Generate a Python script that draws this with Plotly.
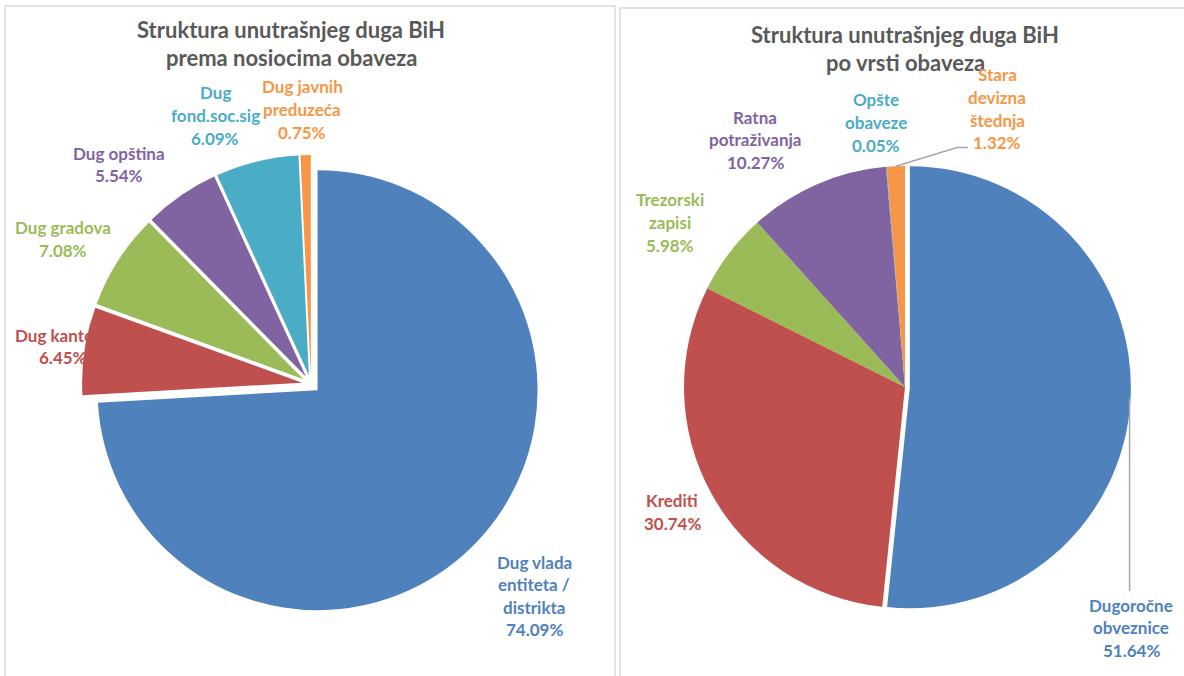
import math
import plotly.graph_objects as go

W, H = 1184, 676

# ---------------- data ----------------
left_title = ["Struktura unutrašnjeg duga BiH", "prema nosiocima obaveza"]
left_labels = ["Dug vlada entiteta / distrikta", "Dug kantona", "Dug gradova",
               "Dug opština", "Dug fond.soc.sig", "Dug javnih preduzeća"]
left_label_lines = [["Dug vlada", "entiteta /", "distrikta"], ["Dug kantona"], ["Dug gradova"],
                    ["Dug opština"], ["Dug", "fond.soc.sig"], ["Dug javnih", "preduzeća"]]
left_values = [74.09, 6.45, 7.08, 5.54, 6.09, 0.75]

right_title = ["Struktura unutrašnjeg duga BiH", "po vrsti obaveza"]
right_labels = ["Dugoročne obveznice", "Krediti", "Trezorski zapisi",
                "Ratna potraživanja", "Opšte obaveze", "Stara devizna štednja"]
right_label_lines = [["Dugoročne", "obveznice"], ["Krediti"], ["Trezorski", "zapisi"],
                     ["Ratna", "potraživanja"], ["Opšte", "obaveze"], ["Stara", "devizna", "štednja"]]
right_values = [51.64, 30.74, 5.98, 10.27, 0.05, 1.32]

colors = ["#4F81BD", "#C0504D", "#9BBB59", "#8064A2", "#4BACC6", "#F79646"]

# ---------------- layout config (pixels) ----------------
FONT = "Lato"
TITLE_COLOR = "#595959"
LINE_STEP = 22.5
LABEL_SIZE = 17
TITLE_SIZE = 22

left_geo = dict(cx=311, cy=384, r=220, pull=[0.041] * 6)
right_geo = dict(cx=905, cy=387, r=221, pull=[0.022, 0, 0, 0, 0, 0])

left_label_pos = [(534, 562), (63, 335), (63, 228), (119, 153), (215, 93), (302, 87)]
right_label_pos = [(1131, 605), (672, 501), (670, 200), (755, 117), (876, 100), (997, 75)]


def px(x):
    return x / W


def py(y):
    return 1 - y / H


def domain(g):
    half = g["r"] * (1 + max(g["pull"]))
    return dict(x=[px(g["cx"] - half), px(g["cx"] + half)],
                y=[py(g["cy"] + half), py(g["cy"] - half)])


def anchor(values, idx, g, radial=1.0):
    total = sum(values)
    start = sum(values[:idx]) / total * 360
    mid = math.radians(start + values[idx] / total * 180)
    rr = g["r"] * (radial + g["pull"][idx])
    return g["cx"] + rr * math.sin(mid), g["cy"] - rr * math.cos(mid)


fig = go.Figure()
for labels, values, g in [(left_labels, left_values, left_geo), (right_labels, right_values, right_geo)]:
    fig.add_trace(go.Pie(
        labels=labels, values=values, sort=False, direction="clockwise", rotation=0,
        marker=dict(colors=colors, line=dict(color="white", width=0)),
        pull=g["pull"], textinfo="none", showlegend=False, domain=domain(g),
        hovertemplate="%{label}: %{value:.2f}%<extra></extra>",
    ))

annotations = []
# titles
for lines, cx, y0 in [(left_title, 291, 29), (right_title, 905, 34)]:
    for i, t in enumerate(lines):
        annotations.append(dict(text=f"<b>{t}</b>", x=px(cx), y=py(y0 + i * 28), xref="paper", yref="paper",
                                xanchor="center", yanchor="middle", showarrow=False,
                                font=dict(family=FONT, size=TITLE_SIZE, color=TITLE_COLOR)))

# data labels
for lines_list, values, pos in [(left_label_lines, left_values, left_label_pos),
                                (right_label_lines, right_values, right_label_pos)]:
    total = sum(values)
    for i, lines in enumerate(lines_list):
        pct = f"{values[i] / total * 100:.2f}%"
        cx, y0 = pos[i]
        for j, t in enumerate(lines + [pct]):
            annotations.append(dict(text=f"<b>{t}</b>", x=px(cx), y=py(y0 + j * LINE_STEP),
                                    xref="paper", yref="paper", xanchor="center", yanchor="middle",
                                    showarrow=False, font=dict(family=FONT, size=LABEL_SIZE, color=colors[i])))

shapes = []
# panel borders
shapes.append(dict(type="rect", xref="paper", yref="paper", x0=px(5), x1=px(615), y0=-0.02, y1=py(6),
                   line=dict(color="#D9D9D9", width=1.5), fillcolor="rgba(0,0,0,0)", layer="below"))
shapes.append(dict(type="rect", xref="paper", yref="paper", x0=px(620), x1=1.02, y0=-0.02, y1=py(8),
                   line=dict(color="#D9D9D9", width=1.5), fillcolor="rgba(0,0,0,0)", layer="below"))

# leader lines (right pie)
ax0, ay0 = anchor(right_values, 0, right_geo)
lx, ly = right_label_pos[0]
shapes.append(dict(type="path", xref="paper", yref="paper",
                   path=f"M {px(ax0 - 1)} {py(ay0)} L {px(ax0 - 1)} {py(ly - 14)}",
                   line=dict(color="#A6A6A6", width=1.5)))
ax5, ay5 = anchor(right_values, 5, right_geo)
lx, ly = right_label_pos[5]
ely = ly + 3 * LINE_STEP + 5
shapes.append(dict(type="path", xref="paper", yref="paper",
                   path=f"M {px(ax5)} {py(ay5)} L {px(lx - 40)} {py(ely)} L {px(lx - 29)} {py(ely)}",
                   line=dict(color="#A6A6A6", width=1.5)))

fig.update_layout(
    width=W, height=H, margin=dict(l=0, r=0, t=0, b=0),
    paper_bgcolor="white", plot_bgcolor="white",
    annotations=annotations, shapes=shapes,
    font=dict(family=FONT),
)

fig.write_html("out.html", config={"displayModeBar": False},
               post_script="document.body.style.margin='0';")
